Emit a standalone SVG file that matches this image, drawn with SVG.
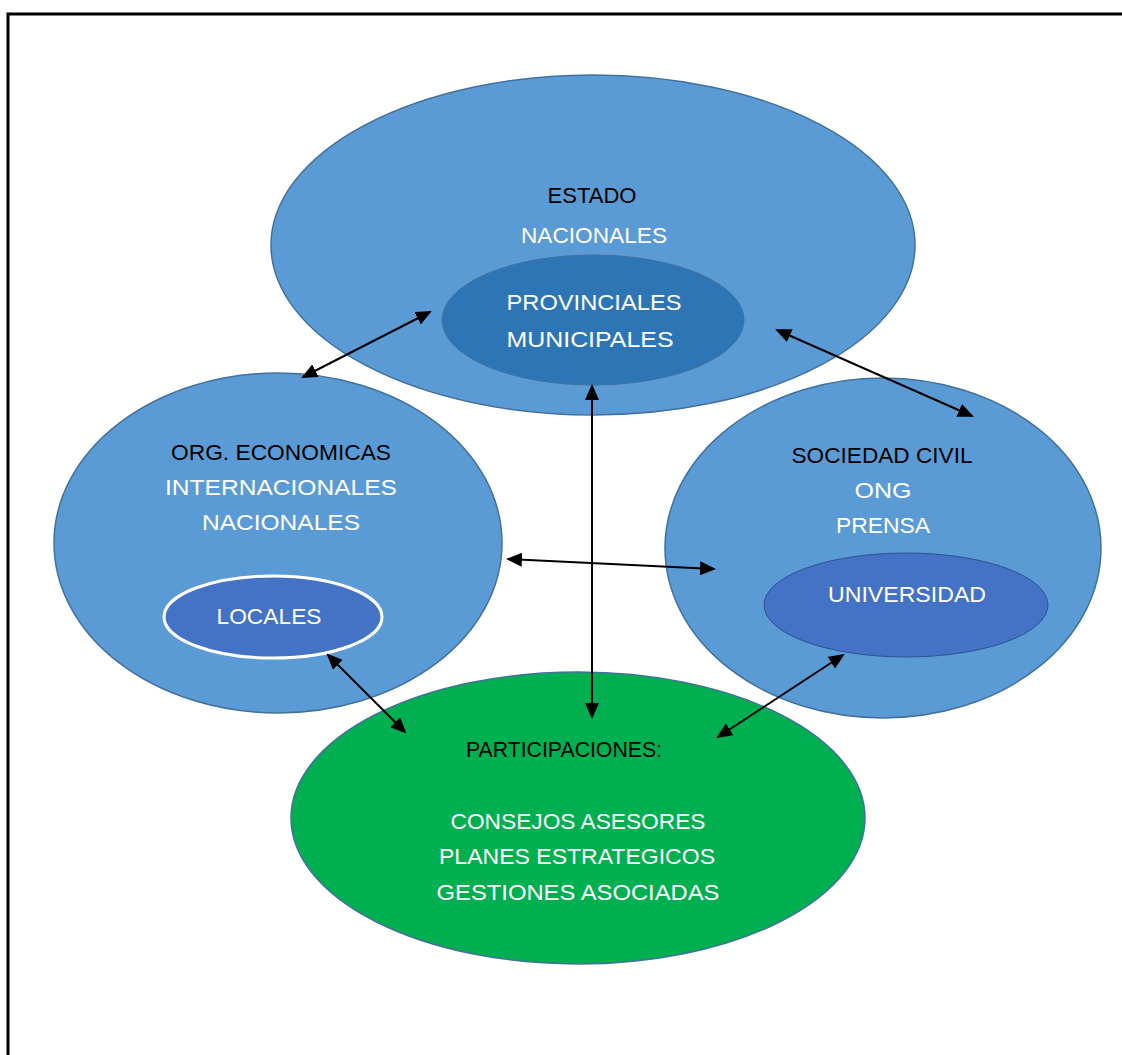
<svg xmlns="http://www.w3.org/2000/svg" width="1122" height="1055" viewBox="0 0 1122 1055">
<style>
.big{fill:#5B9BD5;stroke:#41719C;stroke-width:1.5}
.t{font-family:"Liberation Sans",Arial,sans-serif;font-size:22px;text-anchor:middle}
.k{fill:#000}
.w{fill:#fff}
.c{stroke:#000;stroke-width:2;fill:none;marker-start:url(#ah);marker-end:url(#ah)}
</style>
<defs>
<marker id="ah" markerUnits="userSpaceOnUse" markerWidth="16" markerHeight="14" refX="14" refY="7" orient="auto-start-reverse">
<path d="M0,0 L16,7 L0,14 Z" fill="#000"/>
</marker>
</defs>
<rect width="1122" height="1055" fill="#fff"/>
<path d="M8,1055 V14 H1122" fill="none" stroke="#000" stroke-width="3"/>
<g id="estado">
<ellipse class="big" cx="593" cy="245" rx="322" ry="170"/>
<text class="t k" x="592" y="203" textLength="89" lengthAdjust="spacingAndGlyphs">ESTADO</text>
<text class="t w" x="594" y="243" textLength="146" lengthAdjust="spacingAndGlyphs">NACIONALES</text>
</g>
<g id="provinciales">
<ellipse cx="593" cy="320" rx="151" ry="65" fill="#2E75B6" stroke="#41719C" stroke-width="1"/>
<text class="t w" x="594" y="310" textLength="175" lengthAdjust="spacingAndGlyphs">PROVINCIALES</text>
<text class="t w" x="590" y="347" textLength="167" lengthAdjust="spacingAndGlyphs">MUNICIPALES</text>
</g>
<g id="org">
<ellipse class="big" cx="278" cy="543" rx="224" ry="170"/>
<text class="t k" x="281" y="460" textLength="220" lengthAdjust="spacingAndGlyphs">ORG. ECONOMICAS</text>
<text class="t w" x="281" y="495" textLength="232" lengthAdjust="spacingAndGlyphs">INTERNACIONALES</text>
<text class="t w" x="281" y="530" textLength="158" lengthAdjust="spacingAndGlyphs">NACIONALES</text>
</g>
<g id="locales">
<ellipse cx="273" cy="617" rx="109" ry="41" fill="#4472C4" stroke="#fff" stroke-width="3"/>
<text class="t w" x="269" y="624" textLength="105" lengthAdjust="spacingAndGlyphs">LOCALES</text>
</g>
<g id="sociedad">
<ellipse class="big" cx="883" cy="548" rx="218" ry="170"/>
<text class="t k" x="882" y="463" textLength="181" lengthAdjust="spacingAndGlyphs">SOCIEDAD CIVIL</text>
<text class="t w" x="883" y="498" textLength="57" lengthAdjust="spacingAndGlyphs">ONG</text>
<text class="t w" x="883" y="533" textLength="94" lengthAdjust="spacingAndGlyphs">PRENSA</text>
</g>
<g id="universidad">
<ellipse cx="906" cy="605" rx="142" ry="52" fill="#4472C4" stroke="#2F528F" stroke-width="1"/>
<text class="t w" x="907" y="602" textLength="158" lengthAdjust="spacingAndGlyphs">UNIVERSIDAD</text>
</g>
<g id="participaciones">
<ellipse cx="578" cy="818" rx="287" ry="146" fill="#00B050" stroke="#41719C" stroke-width="1.5"/>
<text class="t k" x="564" y="757" textLength="196" lengthAdjust="spacingAndGlyphs">PARTICIPACIONES:</text>
<text class="t w" x="578" y="829" textLength="255" lengthAdjust="spacingAndGlyphs">CONSEJOS ASESORES</text>
<text class="t w" x="577" y="864" textLength="276" lengthAdjust="spacingAndGlyphs">PLANES ESTRATEGICOS</text>
<text class="t w" x="578" y="900" textLength="283" lengthAdjust="spacingAndGlyphs">GESTIONES ASOCIADAS</text>
</g>
<g id="connectors">
<line class="c" x1="303" y1="377" x2="430" y2="312"/>
<line class="c" x1="777" y1="330" x2="972" y2="416"/>
<line class="c" x1="508" y1="559" x2="714" y2="569"/>
<line class="c" x1="592" y1="386" x2="592" y2="717"/>
<line class="c" x1="328" y1="655" x2="405" y2="732"/>
<line class="c" x1="843" y1="655" x2="718" y2="737"/>
</g>
</svg>
